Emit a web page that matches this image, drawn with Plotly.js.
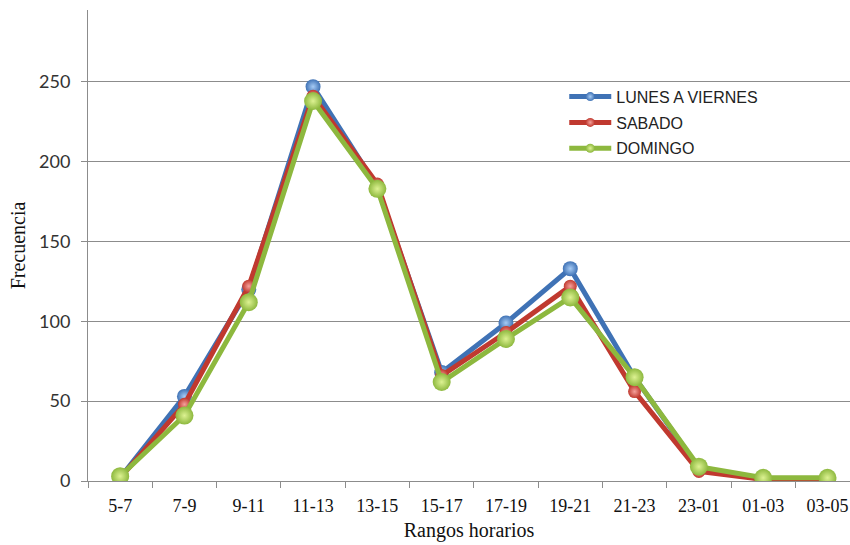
<!DOCTYPE html>
<html>
<head>
<meta charset="utf-8">
<script src="https://cdn.plot.ly/plotly-3.0.1.min.js"></script>
<style>
  html, body { margin: 0; padding: 0; background: #ffffff; }
  #chart { width: 850px; height: 545px; }
</style>
</head>
<body>
<div id="chart"></div>
<script>
// Franjas horarias
const rangos = ["5-7", "7-9", "9-11", "11-13", "13-15", "15-17", "17-19", "19-21", "21-23", "23-01", "01-03", "03-05"];

// Frecuencia por franja
const lunesAViernes = [2, 53, 120, 247, 184, 68, 99, 133, 65, 8, 1, 1];
const sabado        = [2, 48, 122, 241, 186, 66, 93, 122, 56, 6, 1, 1];
const domingo       = [3, 41, 112, 238, 183, 62, 89, 115, 65, 9, 2, 2];

const yTicks = [0, 50, 100, 150, 200, 250];

const estilos = [
  { nombre: "LUNES A VIERNES", valores: lunesAViernes, color: "#3F72B5", brillo: "#A6CBF5", tam: 15 },
  { nombre: "SABADO",          valores: sabado,        color: "#C0392F", brillo: "#F5A19B", tam: 13 },
  { nombre: "DOMINGO",         valores: domingo,       color: "#8DB83E", brillo: "#DDF292", tam: 18 }
];

const data = [];
// Series con sus puntos
estilos.forEach(s => {
  data.push({
    type: "scatter",
    mode: "lines+markers",
    name: s.nombre,
    legendgroup: s.nombre,
    showlegend: false,
    x: rangos,
    y: s.valores,
    line: { color: s.color, width: 5 },
    marker: {
      size: s.tam,
      color: s.color,
      gradient: { type: "radial", color: s.brillo },
      line: { width: 0 }
    }
  });
});
// Entradas de la leyenda con marcador pequeño
estilos.forEach(s => {
  data.push({
    type: "scatter",
    mode: "lines+markers",
    name: s.nombre,
    legendgroup: s.nombre,
    showlegend: true,
    x: [null],
    y: [null],
    line: { color: s.color, width: 5 },
    marker: {
      size: 9,
      color: s.color,
      gradient: { type: "radial", color: s.brillo },
      line: { width: 0 }
    }
  });
});

const layout = {
  width: 850,
  height: 545,
  margin: { l: 88, r: 0, t: 10, b: 64 },
  paper_bgcolor: "#ffffff",
  plot_bgcolor: "#ffffff",
  showlegend: true,
  legend: {
    x: 0.625, y: 0.852, xanchor: "left", yanchor: "top",
    bgcolor: "rgba(0,0,0,0)",
    itemwidth: 42,
    font: { family: "Liberation Sans, Arial, sans-serif", size: 16, color: "#222222" },
    tracegroupgap: 2
  },
  xaxis: {
    type: "category",
    range: [-0.5, 11.35],
    tickson: "boundaries",
    ticks: "outside",
    ticklen: 6,
    tickcolor: "#8c8c8c",
    ticklabelstandoff: 8,
    showline: true,
    linecolor: "#8c8c8c",
    linewidth: 1,
    showgrid: false,
    zeroline: false,
    tickfont: { family: "Liberation Serif, Times New Roman, serif", size: 18, color: "#111111" },
    title: {
      text: "Rangos horarios",
      font: { family: "Liberation Serif, Times New Roman, serif", size: 20, color: "#111111" },
      standoff: 8
    }
  },
  yaxis: {
    range: [0, 295],
    tickvals: yTicks,
    ticks: "outside",
    ticklen: 6,
    tickcolor: "#8c8c8c",
    ticklabelstandoff: 7,
    showline: true,
    linecolor: "#8c8c8c",
    linewidth: 1,
    showgrid: true,
    gridcolor: "#8c8c8c",
    gridwidth: 1,
    zeroline: false,
    tickfont: { family: "Lato, Carlito, sans-serif", size: 18, color: "#333333" },
    title: {
      text: "Frecuencia",
      font: { family: "Liberation Serif, Times New Roman, serif", size: 20, color: "#111111" },
      standoff: 8
    }
  }
};

Plotly.newPlot("chart", data, layout, { displayModeBar: false, staticPlot: true });
</script>
</body>
</html>
